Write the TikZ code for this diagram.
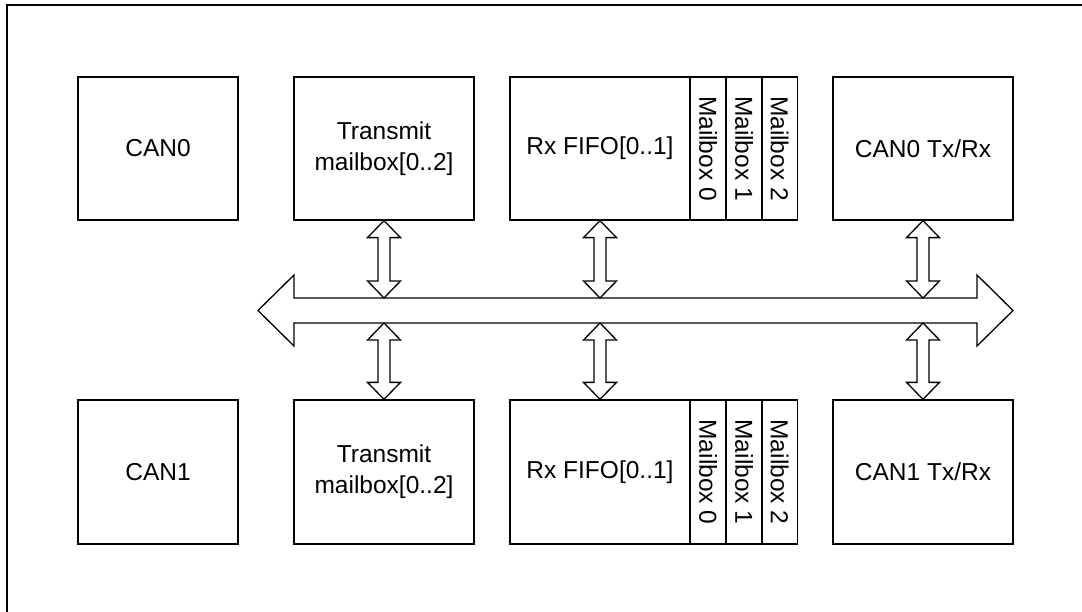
\documentclass[tikz,border=0pt]{standalone}
\usepackage{fontspec}
\setmainfont{Liberation Sans}
\usetikzlibrary{calc}
\tikzset{
  x=1pt, y=1pt,
  blk/.style={draw=black, line width=1.3pt, rectangle, inner sep=0pt, align=center,
    font=\fontsize{24.5}{31}\selectfont},
  mbx/.style={draw=black, line width=1.3pt, rectangle, inner sep=0pt,
    minimum width=36pt, minimum height=143pt},
  mtxt/.style={rotate=-90, font=\fontsize{24.5}{31}\selectfont, inner sep=0pt},
  fat/.style={draw=black, line width=1.3pt, fill=white, line join=miter},
  frame/.style={draw=black, line width=1.3pt}
}
\newcommand\vlink[2]{%
  \draw[fat] let \p1=(#1), \p2=(#2) in
  (\x1,\y1) -- (\x1+16.5pt,\y1-17pt) -- (\x1+6pt,\y1-17pt) -- (\x1+6pt,\y2+17pt)
  -- (\x1+16.5pt,\y2+17pt) -- (\x1,\y2) -- (\x1-16.5pt,\y2+17pt) -- (\x1-6pt,\y2+17pt)
  -- (\x1-6pt,\y1-17pt) -- (\x1-16.5pt,\y1-17pt) -- cycle;}
\begin{document}
\begin{tikzpicture}
\useasboundingbox (0,0) rectangle (1082,-612);
\clip (0,0) rectangle (1082,-612);
\draw[frame] (7,-5) rectangle (1110,-640);

% top row
\node[blk, minimum width=160pt, minimum height=143pt] (can0) at (158,-148.5) {CAN0};
\node[blk, minimum width=180pt, minimum height=143pt] (tx0) at (384,-148.5) {Transmit\\mailbox[0..2]};
\node[blk, minimum width=180pt, minimum height=143pt] (rx0) at (600,-148.5) {Rx FIFO[0..1]};
\node[mbx] (m00) at (708,-148.5) {};
\node[mbx] (m01) at (744,-148.5) {};
\node[mbx] (m02) at (779.5,-148.5) {};
\node[mtxt] at (m00) {Mailbox 0};
\node[mtxt] at (m01) {Mailbox 1};
\node[mtxt] at (m02) {Mailbox 2};
\node[blk, minimum width=180pt, minimum height=143pt] (trx0) at (923,-148.5) {CAN0 Tx/Rx};

% bottom row
\node[blk, minimum width=160pt, minimum height=144pt] (can1) at (158,-472) {CAN1};
\node[blk, minimum width=180pt, minimum height=144pt] (tx1) at (384,-472) {Transmit\\mailbox[0..2]};
\node[blk, minimum width=180pt, minimum height=144pt] (rx1) at (600,-472) {Rx FIFO[0..1]};
\node[mbx, minimum height=144pt] (m10) at (708,-472) {};
\node[mbx, minimum height=144pt] (m11) at (744,-472) {};
\node[mbx, minimum height=144pt] (m12) at (779.5,-472) {};
\node[mtxt] at (m10) {Mailbox 0};
\node[mtxt] at (m11) {Mailbox 1};
\node[mtxt] at (m12) {Mailbox 2};
\node[blk, minimum width=180pt, minimum height=144pt] (trx1) at (923,-472) {CAN1 Tx/Rx};

% bus
\coordinate (busL) at (258,-310.5);
\coordinate (busR) at (1013,-310.5);
\coordinate (busT) at (0,-298);
\coordinate (busB) at (0,-323);
\draw[fat] (busL) -- ++(36,35.5) -- ++(0,-23) -- ($(busR)+(-36,12.5)$) -- ++(0,23)
  -- (busR) -- ++(-36,-35.5) -- ++(0,23) -- ($(busL)+(36,-12.5)$) -- ++(0,-23) -- cycle;

% links
\coordinate (t0) at (tx0.south |- busT);
\coordinate (t1) at (tx1.north |- busB);
\coordinate (r0) at (rx0.south |- busT);
\coordinate (r1) at (rx1.north |- busB);
\coordinate (c0) at (trx0.south |- busT);
\coordinate (c1) at (trx1.north |- busB);
\vlink{tx0.south}{t0}
\vlink{t1}{tx1.north}
\vlink{rx0.south}{r0}
\vlink{r1}{rx1.north}
\vlink{trx0.south}{c0}
\vlink{c1}{trx1.north}
\end{tikzpicture}
\end{document}
